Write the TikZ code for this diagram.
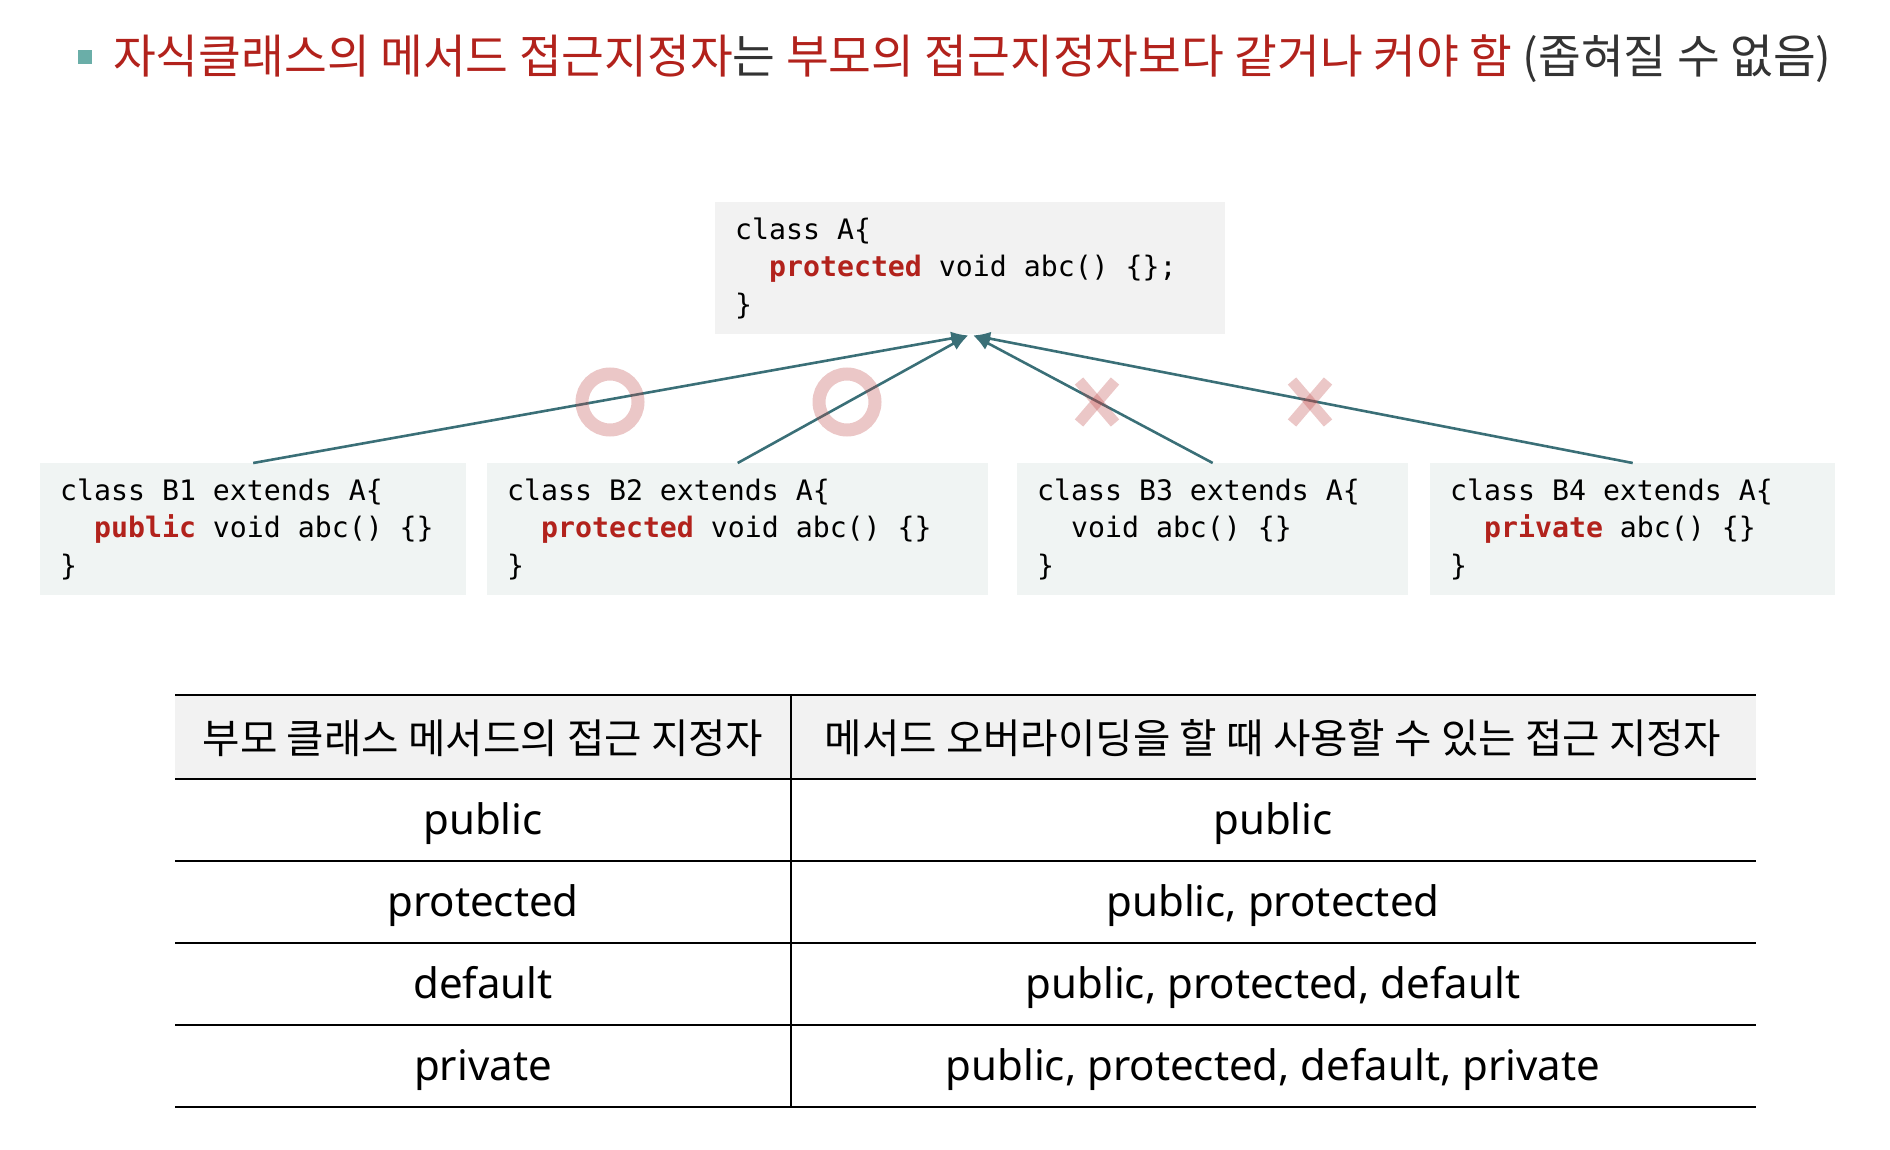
\documentclass[tikz,border=0pt]{standalone}
\usepackage{fontspec}
\setmainfont{Noto Sans}
\setmonofont{DejaVu Sans Mono}
\newfontfamily\kr{Noto Sans CJK KR}
\usetikzlibrary{arrows.meta}
\definecolor{kred}{RGB}{178,34,28}
\definecolor{kdark}{RGB}{51,51,51}
\definecolor{bullet}{RGB}{106,174,168}
\definecolor{boxA}{RGB}{242,242,242}
\definecolor{boxB}{RGB}{240,244,243}
\definecolor{teal}{RGB}{58,111,119}
\definecolor{markc}{RGB}{190,70,70}
\definecolor{hdr}{RGB}{242,242,242}
\newcommand{\codefont}{\ttfamily\fontsize{28.2}{37.5}\selectfont}
\tikzset{
  codebox/.style={rectangle, anchor=north west, inner xsep=20pt, inner ysep=0pt, align=left,
    font=\codefont, text=black},
  link/.style={draw=teal, line width=2.6pt, -{Latex[length=17pt,width=14pt]}},
  okmark/.style={draw=markc, draw opacity=0.3, line width=13pt},
  nomark/.style={draw=markc, draw opacity=0.3, line width=11pt},
  hline/.style={draw=black, line width=2.6pt},
  hdrtext/.style={font=\kr\fontsize{40.7}{46}\selectfont, text=black},
  celltext/.style={font=\fontsize{42}{48}\selectfont, text=black, text height=31pt, text depth=9pt, inner sep=0pt},
}
\newcommand{\kw}[1]{\textcolor{kred}{\bfseries #1}}
\newcommand{\SP}{\hspace*{0.602em}}
\newcommand{\ind}{\SP\SP}
\begin{document}
\begin{tikzpicture}[x=1pt,y=-1pt]
\useasboundingbox (0,0) rectangle (1890,1150);
% title
\node[fill=bullet, minimum size=14pt, inner sep=0pt] (bul) at (85,57) {};
\node[anchor=west, inner sep=0pt, font=\kr\fontsize{46.5}{52}\selectfont, text=kred] (title) at (113,59)
  {자식클래스의 메서드 접근지정자\textcolor{kdark}{는} 부모의 접근지정자보다 같거나 커야 함 \textcolor{kdark}{(좁혀질 수 없음)}};
% class A
\node[codebox, fill=boxA, minimum width=510pt, minimum height=132pt, text width=470pt] (a) at (715,202)
  {class\SP A\{\\\ind\kw{protected}\SP void\SP abc()\SP\{\};\\\}};
% B boxes
\node[codebox, fill=boxB, minimum width=426pt, minimum height=132pt, text width=386pt] (b1) at (40,463)
  {class\SP B1\SP extends\SP A\{\\\ind\kw{public}\SP void\SP abc()\SP\{\}\\\}};
\node[codebox, fill=boxB, minimum width=501pt, minimum height=132pt, text width=461pt] (b2) at (487,463)
  {class\SP B2\SP extends\SP A\{\\\ind\kw{protected}\SP void\SP abc()\SP\{\}\\\}};
\node[codebox, fill=boxB, minimum width=391pt, minimum height=132pt, text width=351pt] (b3) at (1017,463)
  {class\SP B3\SP extends\SP A\{\\\ind void\SP abc()\SP\{\}\\\}};
\node[codebox, fill=boxB, minimum width=405pt, minimum height=132pt, text width=365pt] (b4) at (1430,463)
  {class\SP B4\SP extends\SP A\{\\\ind\kw{private}\SP abc()\SP\{\}\\\}};
% arrows
\coordinate (tipL) at ([xshift=-2pt,yshift=-1pt]a.south);
\coordinate (tipR) at ([xshift=3pt,yshift=-1pt]a.south);
\draw[link] (b1.north) -- (tipL);
\draw[link] (b2.north) -- (tipL);
\draw[link] (b3.north) -- (tipR);
\draw[link] (b4.north) -- (tipR);
% marks
\draw[okmark] (610,402) circle[radius=28];
\draw[okmark] (847,402) circle[radius=28];
\draw[nomark] (1079,381) -- (1115,423);
\draw[nomark] (1115,381) -- (1079,423);
\draw[nomark] (1292,381) -- (1328,423);
\draw[nomark] (1328,381) -- (1292,423);
% table
\fill[hdr] (175,695) rectangle (1756,779);
\draw[hline] (175,695) -- (1756,695);
\draw[hline] (175,779) -- (1756,779);
\draw[hline] (175,861) -- (1756,861);
\draw[hline] (175,943) -- (1756,943);
\draw[hline] (175,1025) -- (1756,1025);
\draw[hline] (175,1107) -- (1756,1107);
\draw[hline] (791,695) -- (791,1107);
\node[hdrtext] (h1) at (483,738) {부모 클래스 메서드의 접근 지정자};
\node[hdrtext] (h2) at (1273,738) {메서드 오버라이딩을 할 때 사용할 수 있는 접근 지정자};
\node[celltext] (r1a) at (483,823) {public};
\node[celltext] (r1b) at (1273,823) {public};
\node[celltext] (r2a) at (483,905) {protected};
\node[celltext] (r2b) at (1273,905) {public, protected};
\node[celltext] (r3a) at (483,987) {default};
\node[celltext] (r3b) at (1273,987) {public, protected, default};
\node[celltext] (r4a) at (483,1069) {private};
\node[celltext] (r4b) at (1273,1069) {public, protected, default, private};
\end{tikzpicture}
\end{document}
